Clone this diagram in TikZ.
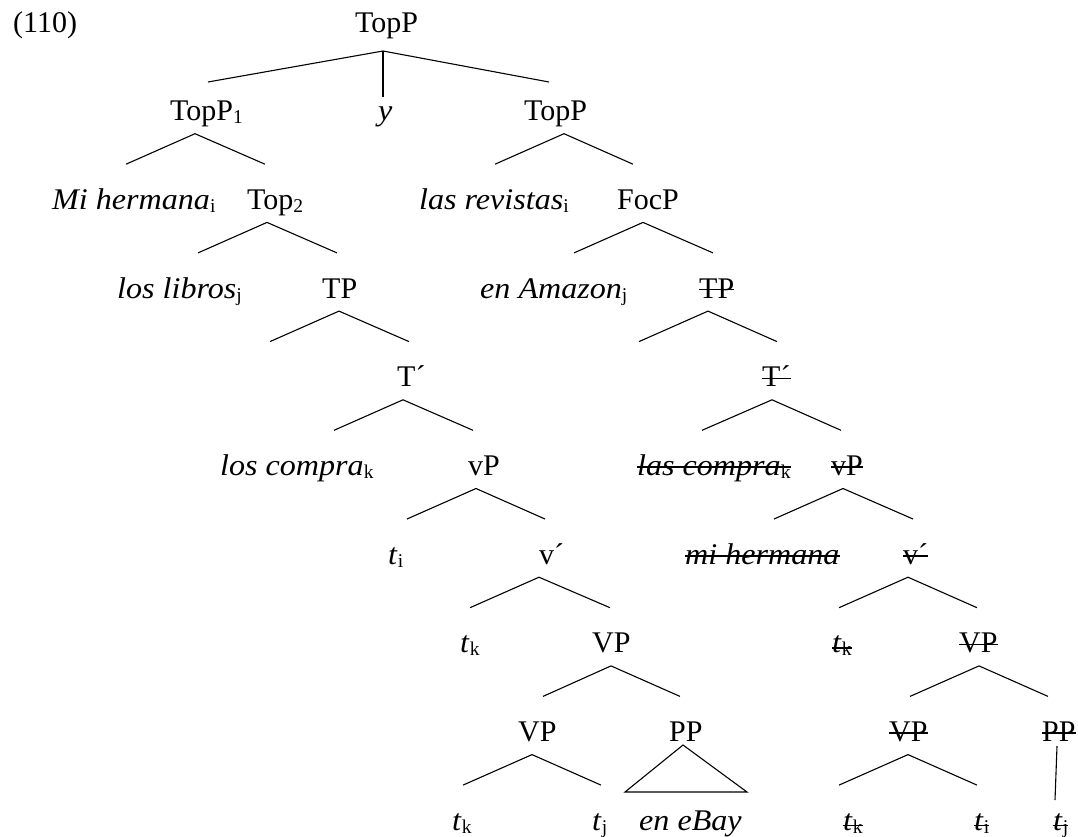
\documentclass[tikz,border=0pt]{standalone}
\usepackage{fontspec}
\setmainfont{Liberation Serif}[ItalicFeatures={FakeStretch=1.07}]
\newcommand{\sbs}[1]{\raisebox{-0.1em}{\fontsize{19.5}{19.5}\selectfont #1}}
\tikzset{
  lab/.style={anchor=base west, inner sep=0pt, font=\fontsize{30}{36}\selectfont},
  br/.style={line width=1.1pt, line join=miter},
  strk/.style={line width=1.6pt}
}
\begin{document}
\begin{tikzpicture}[x=1pt,y=-1pt]
\useasboundingbox (0,0) rectangle (1078,836);
\def\rA{32}\def\rB{120.7}\def\rC{209.4}\def\rD{298.1}\def\rE{386.8}
\def\rF{475.5}\def\rG{564.2}\def\rH{652.9}\def\rI{741.6}\def\rJ{830.3}
% row 0
\node[lab] (ex) at (13,\rA) {(110)};
\node[lab] (top) at (355,\rA) {TopP};
% row 1
\node[lab] (topA) at (170,\rB) {TopP\sbs{1}};
\node[lab] (y) at (378,\rB) {\textit{y}};
\node[lab] (topB) at (524,\rB) {TopP};
% row 2
\node[lab] (mih) at (52,\rC) {\textit{Mi hermana}\sbs{i}};
\node[lab] (top2) at (247,\rC) {Top\sbs{2}};
\node[lab] (rev) at (419,\rC) {\textit{las revistas}\sbs{i}};
\node[lab] (focp) at (617,\rC) {FocP};
% row 3
\node[lab] (libros) at (117,\rD) {\textit{los libros}\sbs{j}};
\node[lab] (tp) at (322,\rD) {TP};
\node[lab] (amazon) at (480,\rD) {\textit{en Amazon}\sbs{j}};
\node[lab] (tpx) at (699,\rD) {TP};
% row 4
\node[lab] (tb) at (397,\rE) {T´};
\node[lab] (tbx) at (762,\rE) {T´};
% row 5
\node[lab] (compra) at (220,\rF) {\textit{los compra}\sbs{k}};
\node[lab] (vp) at (468,\rF) {vP};
\node[lab] (comprax) at (637,\rF) {\textit{las compra}\sbs{k}};
\node[lab] (vpx) at (831,\rF) {vP};
% row 6
\node[lab] (ti) at (388,\rG) {\textit{t}\sbs{i}};
\node[lab] (vb) at (539,\rG) {v´};
\node[lab] (mihx) at (685,\rG) {\textit{mi hermana}};
\node[lab] (vbx) at (903,\rG) {v´};
% row 7
\node[lab] (tkA) at (460,\rH) {\textit{t}\sbs{k}};
\node[lab] (VPA) at (592,\rH) {VP};
\node[lab] (tkAx) at (832,\rH) {\textit{t}\sbs{k}};
\node[lab] (VPAx) at (959,\rH) {VP};
% row 8
\node[lab] (VPB) at (518,\rI) {VP};
\node[lab] (PPB) at (669,\rI) {PP};
\node[lab] (VPBx) at (889,\rI) {VP};
\node[lab] (PPBx) at (1042,\rI) {PP};
% row 9
\node[lab] (tkC) at (452,\rJ) {\textit{t}\sbs{k}};
\node[lab] (tjC) at (592,\rJ) {\textit{t}\sbs{j}};
\node[lab] (ebay) at (639,\rJ) {\textit{en eBay}};
\node[lab] (tkCx) at (843,\rJ) {\textit{t}\sbs{k}};
\node[lab] (tiCx) at (974,\rJ) {\textit{t}\sbs{i}};
\node[lab] (tjCx) at (1053,\rJ) {\textit{t}\sbs{j}};

% strike-throughs
\foreach \n in {tpx,tbx,comprax,vpx,mihx,vbx,VPAx,VPBx,PPBx}
  \draw[strk] ([yshift=8.5pt]\n.base west) -- ([yshift=8.5pt]\n.base east);
\foreach \n in {tkAx,tkCx,tiCx,tjCx}
  \draw[strk] ([yshift=5pt]\n.base west) -- ([yshift=5pt]\n.base east);

% branch coordinates
\coordinate (top-a) at (383,51);
\coordinate (top-l) at (208,82);
\coordinate (top-m) at (383,97);
\coordinate (top-r) at (549,82);
\draw[br] (top-l) -- (top-a) -- (top-r);
\draw[br] (top-a) -- (top-m);

% generic binary branches: name/apex x/left x/right x/row baseline
\foreach \nm/\ax/\lx/\rx/\b in {
  topA/195/126/265/\rB, topB/564/495/633/\rB,
  top2/267/198/337/\rC, focp/643/574/713/\rC,
  tp/339/270/409/\rD, tpx/708/639/777/\rD,
  tb/403/334/473/\rE, tbx/772/702/841/\rE,
  vp/476/407/545/\rF, vpx/843/774/913/\rF,
  vb/539/470/610/\rG, vbx/908/839/977/\rG,
  VPA/611/543/680/\rH, VPAx/979/910/1048/\rH,
  VPB/532/463/601/\rI, VPBx/908/839/977/\rI}
{
  \coordinate (\nm-a) at (\ax,\b+13);
  \coordinate (\nm-l) at (\lx,\b+43.5);
  \coordinate (\nm-r) at (\rx,\b+43.5);
  \draw[br] (\nm-l) -- (\nm-a) -- (\nm-r);
}

% triangle under PP
\coordinate (PPB-a) at (683,745);
\coordinate (PPB-l) at (625,792);
\coordinate (PPB-r) at (747,792);
\draw[br] (PPB-a) -- (PPB-l) -- (PPB-r) -- cycle;

% unary branch under struck PP
\coordinate (PPBx-a) at (1057,746);
\coordinate (PPBx-b) at (1055,800);
\draw[br] (PPBx-a) -- (PPBx-b);
\end{tikzpicture}
\end{document}
